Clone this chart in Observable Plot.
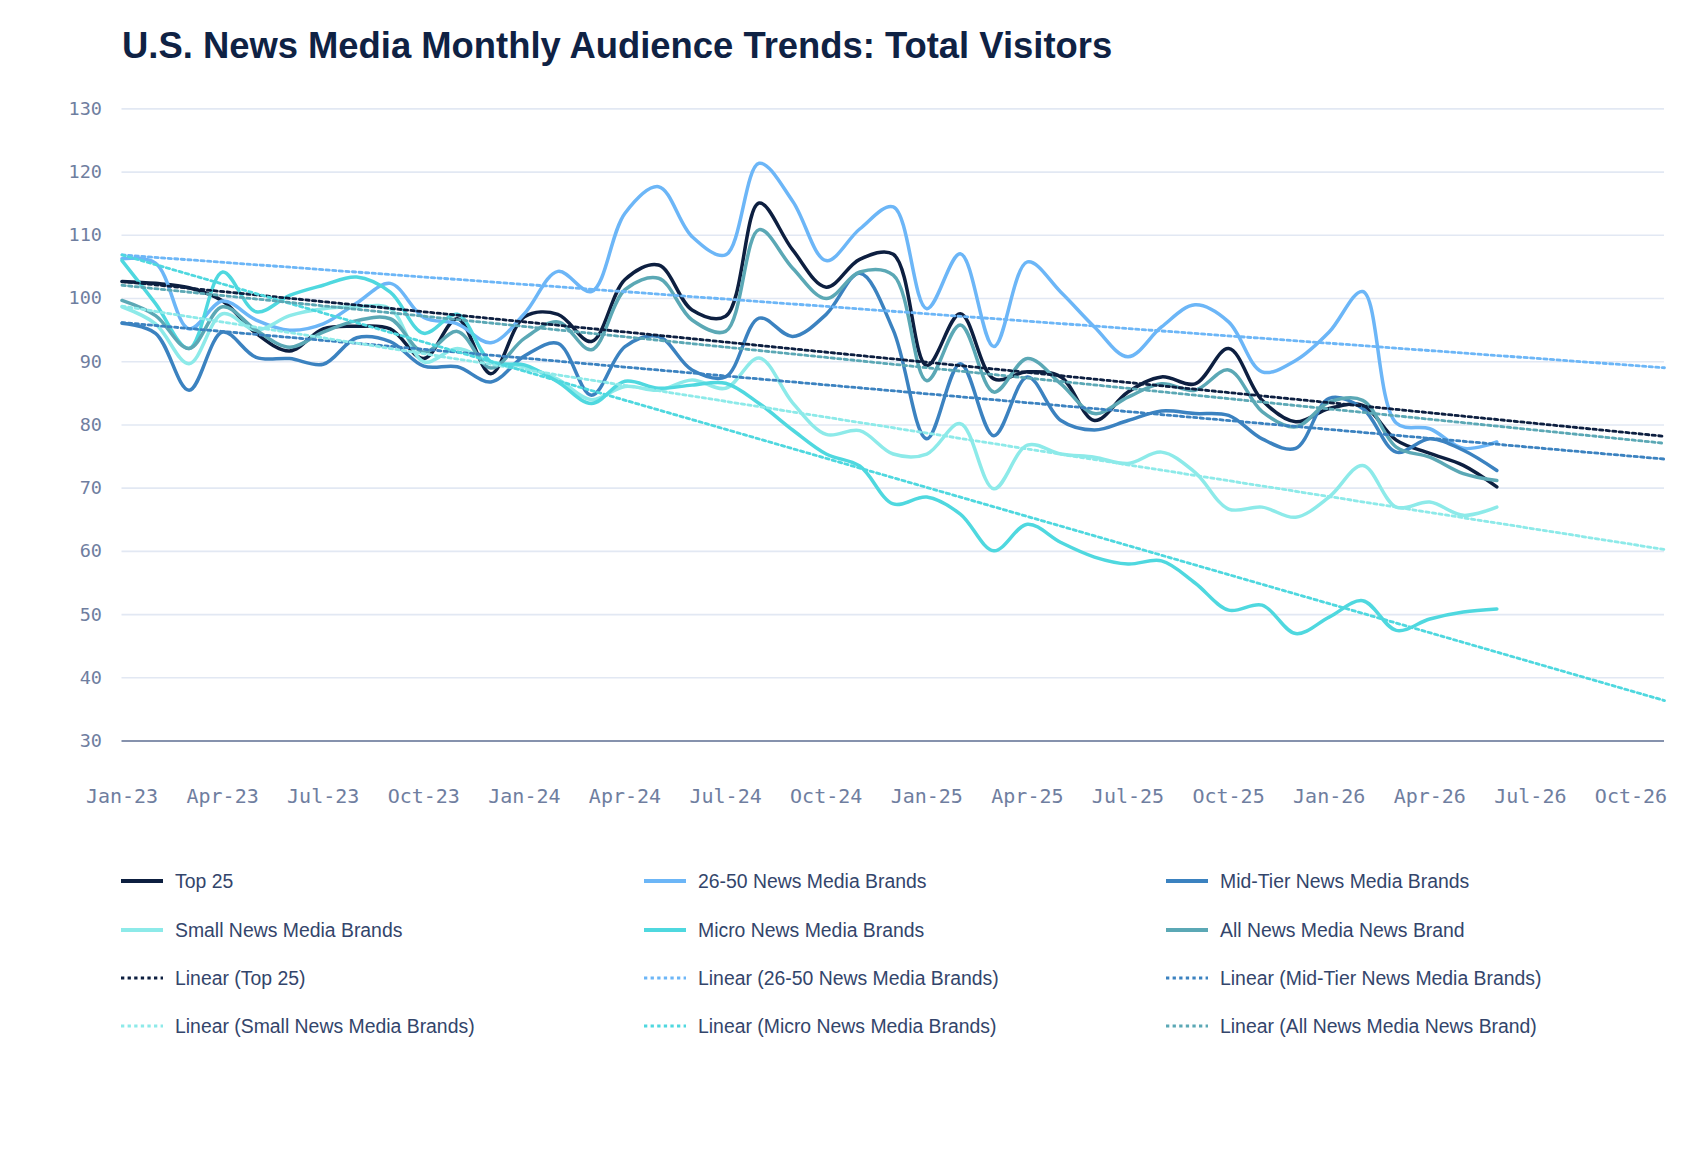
<!DOCTYPE html>
<html><head><meta charset="utf-8">
<script src="https://cdn.jsdelivr.net/npm/d3@7"></script>
<script src="https://cdn.jsdelivr.net/npm/@observablehq/plot@0.6"></script>
<style>
html,body{margin:0;padding:0;background:#fff;}
#page{position:relative;width:1700px;height:1154px;overflow:hidden;background:#fff;}
#title{position:absolute;left:122px;top:28px;font:700 36.4px/36px "Liberation Sans",Arial,sans-serif;color:#0f2244;white-space:nowrap;}
#chart{position:absolute;left:0;top:80px;}
.leg{position:absolute;height:24px;display:flex;align-items:center;font:19.4px/24px "Liberation Sans",Arial,sans-serif;color:#33456b;white-space:nowrap;}
.leg svg{display:block;margin-right:12px;}
</style></head><body>
<div id="page">
  <div id="title">U.S. News Media Monthly Audience Trends: Total Visitors</div>
  <div id="chart"></div>
  <div id="legend"></div>
</div>
<script>
// ---- data (monthly, Jan-23 .. Jun-26) ----
const seriesNames = ["Top 25", "26-50 News Media Brands", "Mid-Tier News Media Brands", "Small News Media Brands", "Micro News Media Brands", "All News Media News Brand"];
const seriesColors = ["#0d1f40", "#6cb6f7", "#3b82c0", "#8deae9", "#4fd8df", "#5ba8b5"];

const top25 = [102.7,102.4,101.7,99.6,94.5,91.7,95.2,95.6,95.2,90.5,96.8,88.1,97.1,97.5,93.2,103.0,105.3,98.2,97.2,115.1,107.7,101.8,106.2,107.0,89.4,97.6,87.3,88.4,87.6,80.7,85.2,87.6,86.5,92.1,83.9,80.5,82.6,83.1,77.6,75.5,73.6,70.2];
const brands26to50 = [106.3,105.6,95.2,99.6,96.6,95.0,96.0,99.3,102.4,97.0,96.0,93.0,97.6,104.3,101.1,113.5,117.7,109.8,106.9,121.4,115.4,106.0,111.0,114.5,98.4,107.1,92.4,105.8,101.0,95.5,90.8,95.5,99.0,96.3,88.4,90.2,94.7,101.1,80.3,79.4,76.3,77.3];
const midTier = [96.1,94.5,85.5,94.7,90.7,90.5,89.6,93.8,93.2,89.3,89.2,86.8,90.9,92.9,84.7,92.4,94.0,88.7,87.6,96.9,94.0,97.5,104.0,95.0,77.8,89.7,78.3,87.6,80.7,79.2,80.7,82.2,81.8,81.5,77.8,76.3,84.2,82.6,75.7,77.8,76.0,72.8];
const small = [98.7,96.0,89.7,97.6,95.0,97.3,98.4,98.7,98.4,90.0,92.1,90.0,89.2,87.2,84.0,86.1,85.5,87.1,85.8,90.6,83.5,78.5,79.1,75.4,75.4,80.2,69.9,76.8,75.4,74.9,73.9,75.7,72.5,66.7,67.0,65.4,68.6,73.6,67.0,67.8,65.7,67.0];
const micro = [106.0,99.2,92.1,104.2,97.9,100.5,102.1,103.4,101.0,94.5,97.5,90.0,89.5,86.8,83.4,86.9,85.8,86.3,86.6,83.4,79.2,75.4,73.5,67.5,68.6,65.9,60.1,64.3,61.4,59.1,58.0,58.5,55.0,50.7,51.5,47.0,49.6,52.2,47.5,49.3,50.4,50.9];
const allNews = [99.7,97.3,92.1,98.7,95.0,92.3,94.7,96.5,96.8,91.5,94.8,89.0,93.7,96.3,91.9,101.4,103.2,96.6,94.8,110.9,104.8,100.0,104.2,103.7,87.0,95.8,85.2,90.5,86.5,81.8,84.4,86.5,85.5,88.7,82.1,79.7,83.6,83.9,76.5,74.9,72.3,71.2];

// linear trend lines: value at Jan-23 and at the axis end (Nov-26)
const trendStart = [102.7, 106.9, 96.2, 98.8, 106.9, 102.1];
const trendEnd   = [78.2, 89.05, 74.6, 60.3, 36.4, 77.1];
const trendEndMonth = 46;

// axis
const xTickMonths = [0,3,6,9,12,15,18,21,24,27,30,33,36,39,42,45];
const xTickLabels = ["Jan-23","Apr-23","Jul-23","Oct-23","Jan-24","Apr-24","Jul-24","Oct-24","Jan-25","Apr-25","Jul-25","Oct-25","Jan-26","Apr-26","Jul-26","Oct-26"];
const yTicks = [30,40,50,60,70,80,90,100,110,120,130];

// ---- build tables ----
const seriesValues = [top25, brands26to50, midTier, small, micro, allNews];
const lineRows = [];
seriesValues.forEach((vals, s) => vals.forEach((v, i) => lineRows.push({series: seriesNames[s], m: i, v})));
const trendRows = [];
seriesNames.forEach((name, s) => {
  trendRows.push({series: name, m: 0, v: trendStart[s]});
  trendRows.push({series: name, m: trendEndMonth, v: trendEnd[s]});
});
const colorScale = {domain: seriesNames, range: seriesColors};

const chart = Plot.plot({
  width: 1700,
  height: 760,
  marginTop: 28.4,
  marginBottom: 99.5,
  marginLeft: 121.5,
  marginRight: 36,
  style: {background: "transparent", overflow: "visible"},
  x: {domain: [0, trendEndMonth], axis: null},
  y: {domain: [30, 130], axis: null},
  color: colorScale,
  marks: [
    Plot.gridY(yTicks.filter(d => d > 30), {stroke: "#e2e8f3", strokeOpacity: 1, strokeWidth: 1.6}),
    Plot.ruleY([30], {stroke: "#8692ad", strokeWidth: 2}),
    Plot.axisY(yTicks, {tickSize: 0, tickPadding: 20, fontSize: 18.5, fontFamily: "'DejaVu Sans Mono', monospace", fill: "#6f7e9f", label: null}),
    Plot.axisX(xTickMonths, {tickSize: 0, tickPadding: 48, fontSize: 20, fontFamily: "'DejaVu Sans Mono', monospace", fill: "#6f7e9f", label: null, tickFormat: (d) => xTickLabels[xTickMonths.indexOf(d)]}),
    Plot.line(lineRows, {x: "m", y: "v", z: "series", stroke: "series", strokeWidth: 3.5, curve: "catmull-rom"}),
    Plot.line(trendRows, {x: "m", y: "v", z: "series", stroke: "series", strokeWidth: 2.8, strokeDasharray: "3.3,3.3"})
  ]
});
document.getElementById("chart").appendChild(chart);

// ---- legend ----
const legendCols = [121, 644, 1166];
const legendRowCenters = [881, 929.5, 978, 1026];
const legendItems = [];
seriesNames.forEach((n, i) => legendItems.push({label: n, color: seriesColors[i], dotted: false}));
seriesNames.forEach((n, i) => legendItems.push({label: `Linear (${n})`, color: seriesColors[i], dotted: true}));
const legend = document.getElementById("legend");
legendItems.forEach((it, k) => {
  const row = Math.floor(k / 3), col = k % 3;
  const div = document.createElement("div");
  div.className = "leg";
  div.style.left = legendCols[col] + "px";
  div.style.top = (legendRowCenters[row] - 12) + "px";
  const sw = it.dotted
    ? `<svg width="42" height="8"><line x1="0" x2="42" y1="4" y2="4" stroke="${it.color}" stroke-width="2.8" stroke-dasharray="3.3,3.3"/></svg>`
    : `<svg width="42" height="8"><line x1="0" x2="42" y1="4" y2="4" stroke="${it.color}" stroke-width="4"/></svg>`;
  div.innerHTML = sw + `<span>${it.label}</span>`;
  legend.appendChild(div);
});
</script>
</body></html>
